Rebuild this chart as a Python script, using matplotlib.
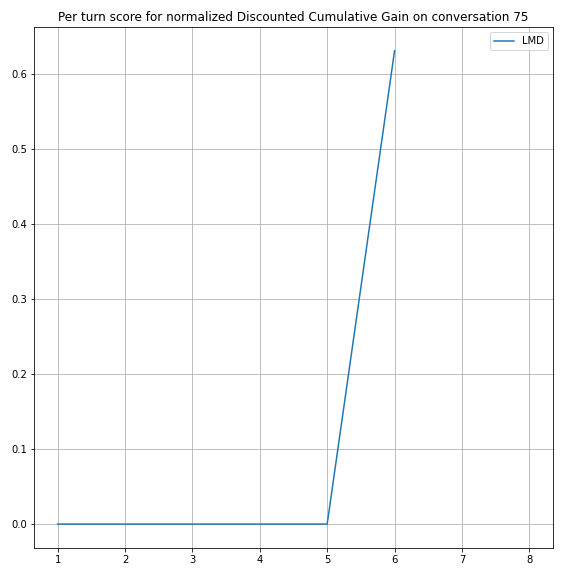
import matplotlib
matplotlib.use('Agg')
import matplotlib.pyplot as plt
import numpy as np

# Dane: wynik nDCG dla kolejnych tur rozmowy 75
turns = [1, 2, 3, 4, 5, 6, 7, 8]
lmd_scores = [0.0, 0.0, 0.0, 0.0, 0.0, 0.631, np.nan, np.nan]

plt.figure(figsize=(8, 8), dpi=72)
plt.plot(turns, lmd_scores, label='LMD')
plt.title('Per turn score for normalized Discounted Cumulative Gain on conversation 75')
# oś x obejmuje wszystkie tury, także te bez wyniku
pad = 0.05 * (max(turns) - min(turns))
plt.xlim(min(turns) - pad, max(turns) + pad)
plt.legend()
plt.grid(True)
plt.subplots_adjust(left=0.059, right=0.960, top=0.953, bottom=0.049)
plt.savefig('out.png', dpi=72, facecolor='white')
